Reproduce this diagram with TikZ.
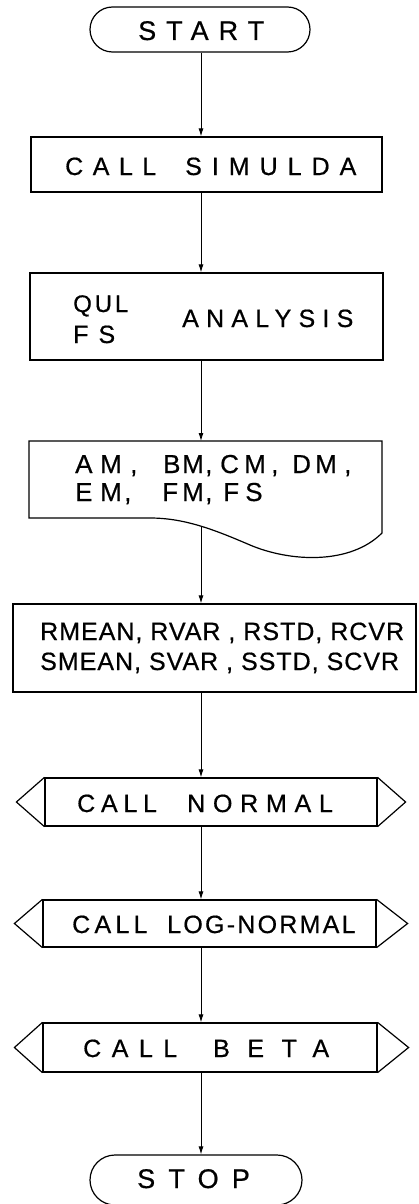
\documentclass[tikz,border=0pt]{standalone}
\usepackage{fontspec}
\setmainfont{Liberation Sans}[FakeBold=0.6]
\usetikzlibrary{shapes.misc,arrows.meta}
\newcommand\ls[2]{\fontsize{#1}{30}\selectfont\addfontfeature{LetterSpace=#2}}
\newcommand\cell[2]{\makebox[#1pt][l]{#2}}
\begin{document}
\begin{tikzpicture}[x=1pt,y=-1pt,
  box/.style={draw, line width=1.2pt, inner sep=0pt},
  term/.style={draw, line width=1.2pt, rounded rectangle, inner sep=0pt},
  conn/.style={line width=0.9pt, -{Latex[length=8pt,width=5pt]}},
  lbl/.style={inner sep=0pt, anchor=base west},
  shape line/.style={line width=1.2pt}]
\useasboundingbox (0,0) rectangle (418,1204);
\coordinate (spine) at (201,0);
% START
\node[term, minimum width=220, minimum height=45] (start) at (200,29.5) {};
\node[lbl, font=\ls{27}{37}] (startt) at (138,40) {START};
% CALL SIMULDA
\node[box, minimum width=351, minimum height=55] (sim) at (206.5,164.5) {};
\node[lbl, font=\ls{25}{38}] (sim1) at (65,175) {CALL};
\node[lbl, font=\ls{25}{40}] (sim2) at (185,175) {SIMULDA};
% ANALYSIS
\node[box, minimum width=353, minimum height=87] (ana) at (206.5,316.5) {};
\node[lbl, font=\ls{24}{12}] (qul) at (73,312) {QUL};
\node[lbl, font=\ls{25}{40}] (fs) at (73,343) {FS};
\node[lbl, font=\ls{25}{29}] (anl) at (182,327) {ANALYSIS};
% document shape
\coordinate (doctop) at (201,441);
\coordinate (docbot) at (201,527);
\draw[shape line] (29,441) -- (382,441) -- (382,533)
  .. controls (350,565) and (290,562) .. (250,545)
  .. controls (215,530) and (185,518) .. (150,518) -- (29,518) -- cycle;
\node[lbl, font=\ls{26}{0}] (am) at (75,473)
  {\cell{25}{A}\cell{30}{M}\cell{33}{,}\cell{19}{B}\cell{23}{M}\cell{15}{,}\cell{24}{C}\cell{27}{M}\cell{21}{,}\cell{23}{D}\cell{29}{M},};
\node[lbl, font=\ls{26}{0}] (em) at (75,501)
  {\cell{25}{E}\cell{24}{M}\cell{38}{,}\cell{20}{F}\cell{23}{M}\cell{18}{,}\cell{22}{F}S};
% statistics box
\node[box, minimum width=403, minimum height=88] (stat) at (214.5,648) {};
\node[lbl, font=\ls{25}{4}] (r1) at (40,640) {RMEAN, RVAR , RSTD, RCVR};
\node[lbl, font=\ls{25}{4}] (r2) at (40,670) {SMEAN, SVAR , SSTD, SCVR};
% CALL NORMAL
\node[box, minimum width=332, minimum height=48] (normal) at (211,802) {};
\draw[shape line] (normal.north west) -- ([xshift=-28]normal.west) -- (normal.south west);
\draw[shape line] (normal.north east) -- ([xshift=28]normal.east) -- (normal.south east);
\node[lbl, font=\ls{25}{23}] (nor1) at (77,812) {CALL};
\node[lbl, font=\ls{25}{31}] (nor2) at (187,812) {NORMAL};
% CALL LOG-NORMAL
\node[box, minimum width=333, minimum height=47] (logn) at (209.5,923.5) {};
\draw[shape line] (logn.north west) -- ([xshift=-28]logn.west) -- (logn.south west);
\draw[shape line] (logn.north east) -- ([xshift=31]logn.east) -- (logn.south east);
\node[lbl, font=\ls{25}{17}] (log1) at (72,933) {CALL};
\node[lbl, font=\ls{25}{9}] (log2) at (167,933) {LOG-NORMAL};
% CALL BETA
\node[box, minimum width=334, minimum height=49] (beta) at (210,1047.5) {};
\draw[shape line] (beta.north west) -- ([xshift=-28]beta.west) -- (beta.south west);
\draw[shape line] (beta.north east) -- ([xshift=31]beta.east) -- (beta.south east);
\node[lbl, font=\ls{25}{42}] (bet1) at (83,1057) {CALL};
\node[lbl, font=\ls{25}{70}] (bet2) at (213,1057) {BETA};
% STOP
\node[term, minimum width=212, minimum height=50] (stop) at (196,1180) {};
\node[lbl, font=\ls{27}{49}] (stopt) at (137,1188) {STOP};
% connectors
\draw[conn] (start.south -| spine) -- (sim.north -| spine);
\draw[conn] (sim.south -| spine) -- (ana.north -| spine);
\draw[conn] (ana.south -| spine) -- (doctop);
\draw[conn] (docbot) -- (stat.north -| spine);
\draw[conn] (stat.south -| spine) -- (normal.north -| spine);
\draw[conn] (normal.south -| spine) -- (logn.north -| spine);
\draw[conn] (logn.south -| spine) -- (beta.north -| spine);
\draw[conn] (beta.south -| spine) -- (stop.north -| spine);
\end{tikzpicture}
\end{document}
